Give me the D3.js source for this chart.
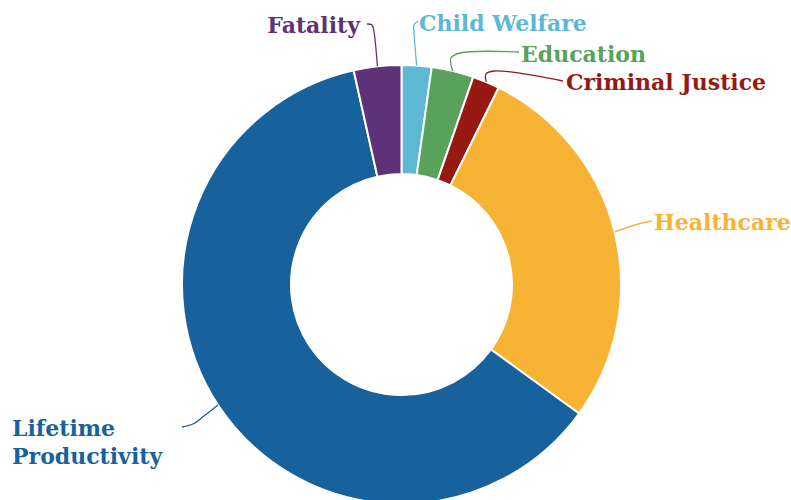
<!DOCTYPE html>
<html>
<head>
<meta charset="utf-8">
<script src="https://cdn.jsdelivr.net/npm/d3@7"></script>
<style>
  body { margin: 0; background: #fff; }
  svg { display: block; }
</style>
</head>
<body>
<div id="chart"></div>
<script>
// cost shares (percent), clockwise from 12 o'clock
const categories = ["Child Welfare", "Education", "Criminal Justice", "Healthcare", "Lifetime Productivity", "Fatality"];
const values = [2.2, 3.1, 2.0, 27.7, 61.5, 3.5];
const colors = ["#5cb8d3", "#58a25b", "#961912", "#f7b334", "#17619d", "#5e3278"];

const width = 791, height = 500;
const cx = 401.5, cy = 284.5;
const outerR = 219.5, innerR = 110.5;

// label placement + leader line bends (layout only)
const labelLayout = {
  "Child Welfare":        {x: 419, y: 31, anchor: "start", bends: [[414, 32], [414, 25], [418, 21]]},
  "Education":            {x: 521, y: 62, anchor: "start", bends: [[451, 58], [460, 53], [519, 52]]},
  "Criminal Justice":     {x: 566, y: 90, anchor: "start", bends: [[486, 74], [494, 71], [563, 81]]},
  "Healthcare":           {x: 654, y: 230, anchor: "start", bends: [[638, 224], [652, 221]]},
  "Lifetime Productivity":{x: 12, y: 436, anchor: "start", bends: [[204, 416], [193, 424], [182, 427]], lines: ["Lifetime", "Productivity"]},
  "Fatality":             {x: 360, y: 33, anchor: "end", bends: [[374, 32], [372, 25], [367, 24]]}
};

const svg = d3.select("#chart").append("svg")
  .attr("width", width)
  .attr("height", height);

const g = svg.append("g").attr("transform", `translate(${cx}, ${cy})`);

const data = categories.map((c, i) => ({name: c, value: values[i], color: colors[i]}));

const pie = d3.pie().sort(null).value(d => d.value);
const arcs = pie(data);

const arc = d3.arc().innerRadius(innerR).outerRadius(outerR);
const edge = d3.arc().innerRadius(outerR).outerRadius(outerR);

g.selectAll("path.slice")
  .data(arcs)
  .enter()
  .append("path")
    .attr("class", "slice")
    .attr("d", arc)
    .attr("fill", d => d.data.color)
    .attr("stroke", "#fff")
    .attr("stroke-width", 2);

// leader lines
const leader = d3.line().curve(d3.curveCatmullRom.alpha(0.5));

svg.selectAll("path.leader")
  .data(arcs)
  .enter()
  .append("path")
    .attr("class", "leader")
    .attr("d", d => {
      const c = edge.centroid(d);
      const pts = [[c[0] + cx, c[1] + cy]].concat(labelLayout[d.data.name].bends);
      return leader(pts);
    })
    .attr("fill", "none")
    .attr("stroke", d => d.data.color)
    .attr("stroke-width", 1.3);

// labels
const labels = svg.selectAll("text.label")
  .data(arcs)
  .enter()
  .append("text")
    .attr("class", "label")
    .attr("x", d => labelLayout[d.data.name].x)
    .attr("y", d => labelLayout[d.data.name].y)
    .attr("text-anchor", d => labelLayout[d.data.name].anchor)
    .attr("font-family", "'DejaVu Serif', serif")
    .attr("font-weight", "bold")
    .attr("font-size", "22px")
    .attr("fill", d => d.data.color);

labels.each(function(d) {
  const lay = labelLayout[d.data.name];
  const t = d3.select(this);
  if (lay.lines) {
    lay.lines.forEach((ln, i) => {
      t.append("tspan").attr("x", lay.x).attr("dy", i === 0 ? 0 : 28).text(ln);
    });
  } else {
    t.text(d.data.name);
  }
});
</script>
</body>
</html>
